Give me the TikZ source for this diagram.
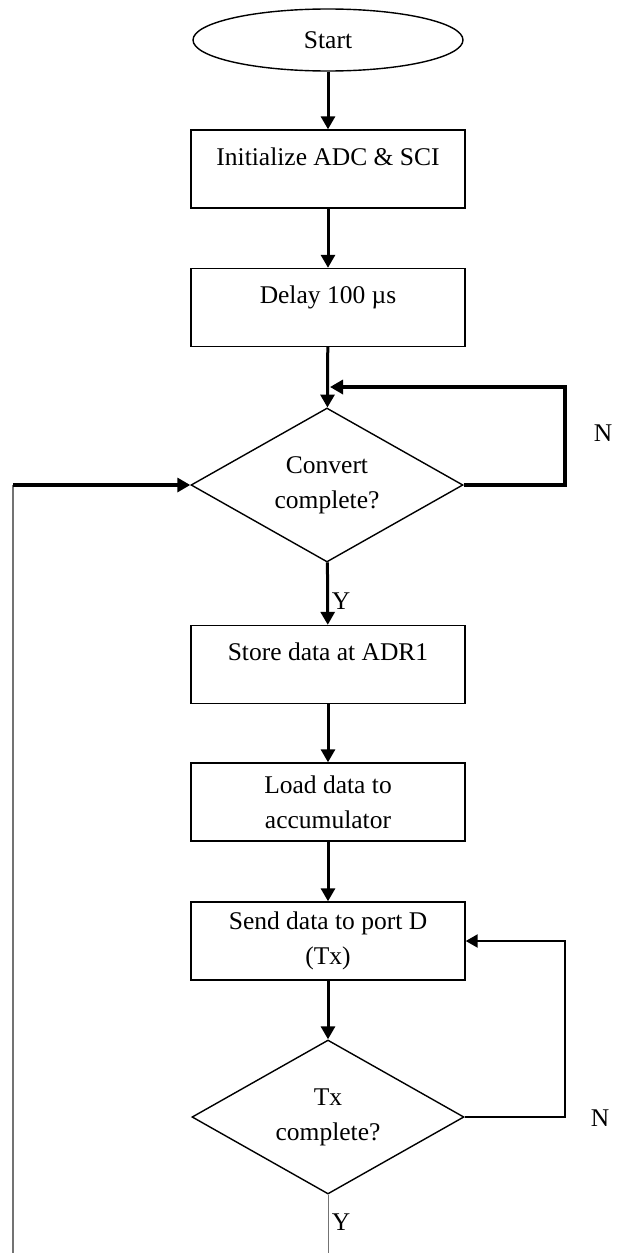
\documentclass[tikz,border=0pt]{standalone}
\usepackage{fontspec}
\setmainfont{Liberation Serif}
\usetikzlibrary{shapes.geometric,arrows.meta}
\begin{document}
\begin{tikzpicture}[x=1pt,y=-1pt,
  every node/.style={font=\fontsize{25.5}{35}\selectfont},
  procbox/.style={draw,line width=1.4pt,rectangle,minimum width=274pt,minimum height=78pt,inner sep=0pt,align=center},
  hightext/.style={text height=18pt,text depth=26pt},
  decision/.style={draw,line width=1.4pt,diamond,aspect=1.77,minimum width=272pt,minimum height=154pt,inner sep=0pt,align=center},
  terminal/.style={draw,line width=1.4pt,ellipse,minimum width=270pt,minimum height=62pt,inner sep=0pt},
  flow/.style={line width=3pt,-{Triangle[width=14pt,length=13pt]}},
  thickloop/.style={line width=4.5pt,-{Triangle[width=14pt,length=13pt]}},
  thinloop/.style={line width=2.2pt,-{Triangle[width=13pt,length=12pt]}},
  faint/.style={line width=1.5pt,black!55},
  lbl/.style={inner sep=0pt}]
\useasboundingbox (0,0) rectangle (617,1253);
\node[terminal] (start) at (328,40) {Start};
\node[procbox,hightext] (init) at (328,169) {Initialize ADC \& SCI};
\node[procbox,hightext] (delay) at (328,307.5) {Delay 100 µs};
\node[decision] (conv) at (327,485) {Convert\\complete?};
\node[procbox,hightext] (store) at (328,664.5) {Store data at ADR1};
\node[procbox] (load) at (328,802) {Load data to\\accumulator};
\node[procbox] (send) at (328,941) {Send data to port D\\(Tx)};
\node[decision] (tx) at (328,1117) {Tx\\complete?};
\node[lbl] (n1) at (603,433) {N};
\node[lbl] (y1) at (341,601) {Y};
\node[lbl] (n2) at (600,1118) {N};
\node[lbl] (y2) at (341,1222) {Y};
\coordinate (cj) at (330,387);
\coordinate (cr) at (565,485);
\coordinate (lc) at (13,485);
\coordinate (lb) at (13,1253);
\coordinate (tr) at (565,1117);
\coordinate (tb) at (328,1253);
\draw[flow] (start) -- (init);
\draw[flow] (init) -- (delay);
\draw[flow] (delay) -- (conv);
\draw[flow] (conv) -- (store);
\draw[flow] (store) -- (load);
\draw[flow] (load) -- (send);
\draw[flow] (send) -- (tx);
\draw[thickloop] (conv.east) -- (cr) |- (cj);
\draw[thinloop] (tx.east) -- (tr) |- (send.east);
\draw[faint] (lb) -- (lc);
\draw[thickloop] (lc) -- (conv.west);
\draw[faint,line width=1pt] (tx.south) -- (tb);
\end{tikzpicture}
\end{document}
